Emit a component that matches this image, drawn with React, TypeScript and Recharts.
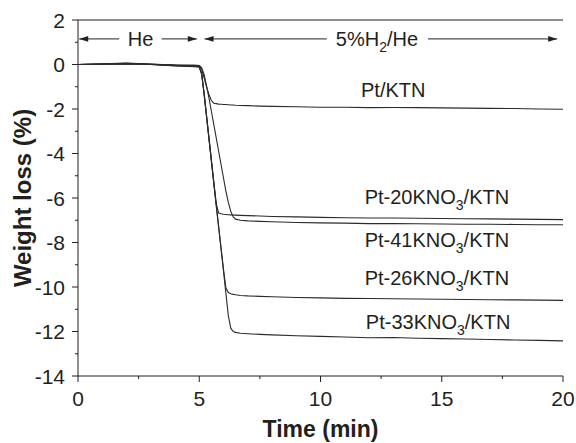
import React from 'react';
import { LineChart, Line, XAxis, YAxis, ReferenceLine, ReferenceDot } from 'recharts';

// time axis (min)
const times = [0, 1, 2, 3, 4, 4.8, 5.0, 5.1, 5.2, 5.3, 5.4, 5.5, 5.6, 5.7, 5.8, 5.9, 6.0, 6.1, 6.2, 6.3, 6.4, 6.5, 6.7, 7, 7.5, 8, 9, 10, 11, 12, 13, 14, 15, 16, 17, 18, 19, 20];

// weight loss (%) per sample
const ptKtn = [0, 0.02, 0.05, 0.01, -0.03, -0.04, -0.05, -0.2, -0.6, -1.0, -1.35, -1.62, -1.74, -1.76, -1.78, -1.79, -1.8, -1.8, -1.81, -1.82, -1.82, -1.83, -1.84, -1.85, -1.87, -1.88, -1.9, -1.92, -1.92, -1.94, -1.93, -1.94, -1.95, -1.96, -1.97, -1.98, -2.0, -2.01];
const pt20 = [0, 0.01, 0.04, 0, -0.05, -0.08, -0.1, -0.4, -1.3, -2.3, -3.3, -4.3, -5.3, -6.25, -6.68, -6.71, -6.73, -6.74, -6.75, -6.76, -6.77, -6.77, -6.78, -6.79, -6.81, -6.83, -6.85, -6.87, -6.89, -6.9, -6.9, -6.91, -6.92, -6.93, -6.94, -6.95, -6.96, -6.97];
const pt41 = [0, 0.03, 0.06, 0.02, -0.02, -0.04, -0.05, -0.15, -0.45, -0.95, -1.5, -2.1, -2.7, -3.3, -3.9, -4.5, -5.1, -5.7, -6.2, -6.6, -6.85, -6.95, -7.0, -7.03, -7.05, -7.07, -7.1, -7.12, -7.13, -7.15, -7.15, -7.16, -7.17, -7.18, -7.18, -7.19, -7.2, -7.2];
const pt26 = [0, 0.01, 0.03, 0, -0.06, -0.1, -0.12, -0.45, -1.35, -2.35, -3.35, -4.35, -5.35, -6.35, -7.3, -8.25, -9.2, -10.05, -10.25, -10.3, -10.33, -10.35, -10.38, -10.4, -10.42, -10.44, -10.47, -10.49, -10.51, -10.52, -10.53, -10.54, -10.55, -10.56, -10.57, -10.58, -10.59, -10.6];
const pt33 = [0, 0.02, 0.04, 0.01, -0.04, -0.07, -0.09, -0.4, -1.3, -2.3, -3.3, -4.3, -5.3, -6.3, -7.3, -8.3, -9.3, -10.3, -11.3, -11.85, -12.0, -12.04, -12.08, -12.1, -12.13, -12.15, -12.19, -12.22, -12.25, -12.28, -12.27, -12.3, -12.32, -12.34, -12.36, -12.38, -12.4, -12.42];

const xTicks = [0, 2.5, 5, 7.5, 10, 12.5, 15, 17.5, 20];
const yTicks = [-14, -13, -12, -11, -10, -9, -8, -7, -6, -5, -4, -3, -2, -1, 0, 1, 2];

const data = times.map((t, i) => ({
  t,
  ptKtn: ptKtn[i],
  pt20: pt20[i],
  pt41: pt41[i],
  pt26: pt26[i],
  pt33: pt33[i],
}));

const FONT = '"Liberation Sans", Arial, sans-serif';
const INK = '#231f20';
const LINE = '#2b2b2b';

// curve labels: [x, y, number]
const curveLabels: [number, number, string | null][] = [
  [13.0, -1.48, null],
  [14.8, -6.25, '20'],
  [14.8, -8.18, '41'],
  [14.8, -9.93, '26'],
  [14.85, -11.87, '33'],
];

const Arrow = (p: any, left: boolean, right: boolean) => {
  const { x1, y1, x2, y2 } = p;
  const a = 9;
  const h = 2.8;
  return (
    <g>
      <line x1={x1} y1={y1} x2={x2} y2={y2} stroke={INK} strokeWidth={1} />
      {left && <polygon points={`${x1},${y1} ${x1 + a},${y1 - h} ${x1 + a},${y1 + h}`} fill={INK} />}
      {right && <polygon points={`${x2},${y2} ${x2 - a},${y2 - h} ${x2 - a},${y2 + h}`} fill={INK} />}
    </g>
  );
};

const YTick = (props: any) => {
  const { x, y, payload } = props;
  const major = payload.value % 2 === 0;
  return (
    <g>
      <line x1={x - (major ? 6 : 3)} y1={y} x2={x} y2={y} stroke={INK} strokeWidth={1} />
      {major && (
        <text x={x - 13} y={y} textAnchor="end" dominantBaseline="central" fontSize={21} fontFamily={FONT} fill={INK}>
          {payload.value}
        </text>
      )}
    </g>
  );
};

const XTick = (props: any) => {
  const { x, y, payload } = props;
  const major = payload.value % 5 === 0;
  return (
    <g>
      <line x1={x} y1={y} x2={x} y2={y + (major ? 6 : 3)} stroke={INK} strokeWidth={1} />
      {major && (
        <text x={x} y={y + 30} textAnchor="middle" fontSize={21} fontFamily={FONT} fill={INK}>
          {payload.value}
        </text>
      )}
    </g>
  );
};

const TopTick = (props: any) => {
  const { x, y } = props;
  return <line x1={x} y1={y} x2={x} y2={y + 3} stroke={INK} strokeWidth={1} />;
};

const RightTick = (props: any) => {
  const { x, y } = props;
  return <line x1={x - 3} y1={y} x2={x} y2={y} stroke={INK} strokeWidth={1} />;
};

// plain line used for the top frame edge
const Frame = (p: any) => <line x1={p.x1} y1={p.y1} x2={p.x2} y2={p.y2} stroke={INK} strokeWidth={1.2} />;

export default function App() {
  return (
    <div style={{ position: 'absolute', left: 0, top: 0, background: '#fff' }}>
      <LineChart width={576} height={443} data={data} margin={{ top: 20, right: 13, left: 20, bottom: 11 }}>
        <XAxis
          dataKey="t"
          type="number"
          domain={[0, 20]}
          ticks={xTicks}
          tick={<XTick />}
          tickLine={false}
          tickSize={0}
          tickMargin={0}
          height={56}
          stroke={INK}
          interval={0}
          label={{
            content: (p: any) => {
              const vb = p.viewBox;
              return (
                <text x={vb.x + vb.width / 2} y={vb.y + 61} textAnchor="middle" fontSize={23} fontWeight="bold" fontFamily={FONT} fill={INK}>
                  Time (min)
                </text>
              );
            },
          }}
        />
        <XAxis
          xAxisId="top"
          orientation="top"
          dataKey="t"
          type="number"
          domain={[0, 20]}
          ticks={xTicks}
          tick={<TopTick />}
          tickLine={false}
          tickSize={0}
          tickMargin={0}
          height={0}
          stroke={INK}
          interval={0}
        />
        <YAxis
          type="number"
          domain={[-14, 2]}
          ticks={yTicks}
          tick={<YTick />}
          tickLine={false}
          tickSize={0}
          tickMargin={0}
          width={58}
          stroke={INK}
          interval={0}
          label={{
            content: (p: any) => {
              const vb = p.viewBox;
              const cx = 31;
              const cy = vb.y + vb.height / 2;
              return (
                <text x={cx} y={cy} transform={`rotate(-90 ${cx} ${cy})`} textAnchor="middle" fontSize={24} fontWeight="bold" fontFamily={FONT} fill={INK}>
                  Weight loss (%)
                </text>
              );
            },
          }}
        />
        <YAxis
          yAxisId="right"
          orientation="right"
          type="number"
          domain={[-14, 2]}
          ticks={yTicks}
          tick={<RightTick />}
          tickLine={false}
          tickSize={0}
          tickMargin={0}
          width={0}
          stroke={INK}
          interval={0}
        />
        <ReferenceLine segment={[{ x: 0, y: 2 }, { x: 20, y: 2 }]} ifOverflow="visible" shape={Frame} />

        <Line type="linear" dataKey="ptKtn" stroke={LINE} strokeWidth={1.1} dot={false} isAnimationActive={false} />
        <Line type="linear" dataKey="pt20" stroke={LINE} strokeWidth={1.1} dot={false} isAnimationActive={false} />
        <Line type="linear" dataKey="pt41" stroke={LINE} strokeWidth={1.1} dot={false} isAnimationActive={false} />
        <Line type="linear" dataKey="pt26" stroke={LINE} strokeWidth={1.1} dot={false} isAnimationActive={false} />
        <Line type="linear" dataKey="pt33" stroke={LINE} strokeWidth={1.1} dot={false} isAnimationActive={false} />

        {/* gas atmosphere arrows */}
        <ReferenceLine segment={[{ x: 0.05, y: 1.15 }, { x: 1.7, y: 1.15 }]} shape={(p: any) => Arrow(p, true, false)} />
        <ReferenceLine segment={[{ x: 3.45, y: 1.15 }, { x: 4.9, y: 1.15 }]} shape={(p: any) => Arrow(p, false, true)} />
        <ReferenceLine segment={[{ x: 5.22, y: 1.15 }, { x: 10.26, y: 1.15 }]} shape={(p: any) => Arrow(p, true, false)} />
        <ReferenceLine segment={[{ x: 14.43, y: 1.15 }, { x: 19.76, y: 1.15 }]} shape={(p: any) => Arrow(p, false, true)} />
        <ReferenceDot
          x={2.58}
          y={1.15}
          r={0}
          shape={(p: any) => (
            <text x={p.cx} y={p.cy} textAnchor="middle" dominantBaseline="central" fontSize={20} fontFamily={FONT} fill={INK}>
              He
            </text>
          )}
        />
        <ReferenceDot
          x={12.33}
          y={1.15}
          r={0}
          shape={(p: any) => (
            <text x={p.cx} y={p.cy + 7} textAnchor="middle" fontSize={20} fontFamily={FONT} fill={INK}>
              5%H<tspan dy={6} fontSize={14}>2</tspan><tspan dy={-6}>/He</tspan>
            </text>
          )}
        />

        {curveLabels.map(([x, y, n]) => (
          <ReferenceDot
            key={`${x}-${y}`}
            x={x}
            y={y}
            r={0}
            shape={(p: any) => (
              <text x={p.cx} y={p.cy} textAnchor="middle" fontSize={20} fontFamily={FONT} fill={INK}>
                {n === null ? (
                  'Pt/KTN'
                ) : (
                  <>
                    {`Pt-${n}KNO`}
                    <tspan dy={6} fontSize={14}>3</tspan>
                    <tspan dy={-6}>/KTN</tspan>
                  </>
                )}
              </text>
            )}
          />
        ))}
      </LineChart>
    </div>
  );
}
